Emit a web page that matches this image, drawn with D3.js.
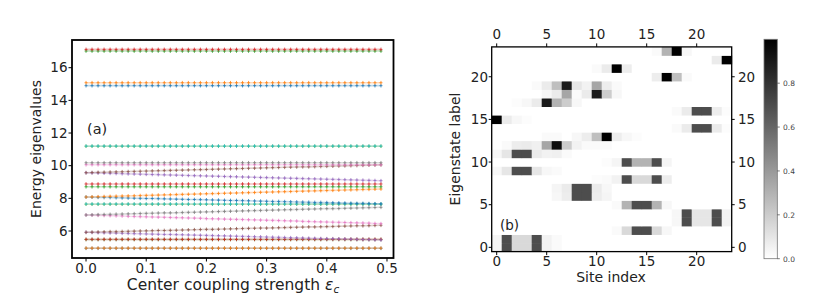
<!DOCTYPE html>
<html><head><meta charset="utf-8">
<script src="https://cdn.jsdelivr.net/npm/d3@7"></script>
<style>body{margin:0;background:#fff}svg{display:block}text{font-family:"DejaVu Sans",sans-serif}</style>
</head><body><svg id="c" width="830" height="305"></svg>
<script>
// ---------- Panel (a) data ----------
const eps = d3.range(50).map(i => +(i * 0.01).toFixed(2));
const xTicksA = [0.0, 0.1, 0.2, 0.3, 0.4, 0.5];
const yTicksA = [6, 8, 10, 12, 14, 16];
// constant eigenvalue levels (index -> value)
const constLevels = {0: 4.94, 1: 4.95, 2: 5.48, 3: 5.49, 8: 7.64, 9: 7.65, 12: 8.71, 13: 8.88,
  16: 10.06, 17: 10.18, 18: 11.19, 19: 11.20, 20: 14.90, 21: 15.08, 22: 17.02, 23: 17.12};
const e4 = [5.92,5.91,5.90,5.89,5.88,5.87,5.86,5.85,5.84,5.83,5.82,5.81,5.80,5.79,5.79,5.78,5.77,5.76,5.75,5.74,5.73,5.72,5.71,5.70,5.69,5.68,5.67,5.66,5.65,5.64,5.63,5.62,5.61,5.60,5.59,5.58,5.57,5.56,5.55,5.54,5.53,5.53,5.52,5.51,5.50,5.49,5.48,5.47,5.46,5.45];
const e5 = [5.92,5.93,5.94,5.95,5.96,5.96,5.97,5.98,5.99,6.00,6.01,6.02,6.03,6.03,6.04,6.05,6.06,6.07,6.08,6.09,6.10,6.10,6.11,6.12,6.13,6.14,6.15,6.16,6.17,6.18,6.18,6.19,6.20,6.21,6.22,6.23,6.24,6.25,6.25,6.26,6.27,6.28,6.29,6.30,6.31,6.32,6.32,6.33,6.34,6.35];
const e6 = [6.98,6.97,6.96,6.95,6.94,6.93,6.92,6.90,6.89,6.88,6.87,6.86,6.85,6.84,6.83,6.82,6.81,6.80,6.79,6.78,6.76,6.75,6.74,6.73,6.72,6.71,6.70,6.69,6.68,6.67,6.66,6.65,6.64,6.63,6.62,6.61,6.59,6.58,6.57,6.56,6.55,6.54,6.53,6.52,6.51,6.50,6.49,6.48,6.46,6.45];
const e7 = [6.98,6.99,7.00,7.01,7.02,7.03,7.04,7.05,7.06,7.07,7.08,7.09,7.10,7.11,7.11,7.12,7.13,7.14,7.15,7.16,7.17,7.18,7.19,7.20,7.21,7.22,7.23,7.24,7.25,7.26,7.27,7.28,7.29,7.30,7.31,7.32,7.33,7.34,7.35,7.36,7.37,7.37,7.38,7.39,7.40,7.41,7.42,7.43,7.44,7.45];
const e10 = [8.08,8.07,8.06,8.05,8.05,8.04,8.03,8.02,8.01,8.00,7.99,7.99,7.98,7.97,7.96,7.95,7.94,7.93,7.93,7.92,7.91,7.90,7.89,7.88,7.87,7.87,7.86,7.85,7.84,7.83,7.82,7.81,7.81,7.80,7.79,7.78,7.77,7.76,7.75,7.75,7.74,7.73,7.72,7.71,7.70,7.69,7.69,7.68,7.67,7.66];
const e11 = [8.08,8.09,8.10,8.11,8.12,8.13,8.14,8.15,8.16,8.17,8.18,8.19,8.20,8.21,8.22,8.23,8.24,8.25,8.26,8.27,8.28,8.29,8.30,8.31,8.32,8.33,8.34,8.35,8.36,8.37,8.38,8.39,8.40,8.41,8.42,8.43,8.44,8.45,8.46,8.47,8.48,8.49,8.50,8.51,8.52,8.53,8.54,8.55,8.56,8.57];
const e14 = [9.57,9.56,9.55,9.54,9.53,9.52,9.51,9.50,9.49,9.48,9.47,9.46,9.45,9.44,9.43,9.42,9.41,9.40,9.39,9.38,9.37,9.36,9.35,9.34,9.33,9.32,9.31,9.30,9.29,9.28,9.27,9.26,9.25,9.24,9.23,9.22,9.21,9.20,9.19,9.18,9.17,9.16,9.15,9.14,9.13,9.12,9.11,9.10,9.09,9.08];
const e15 = [9.57,9.58,9.59,9.60,9.61,9.62,9.63,9.64,9.65,9.66,9.67,9.68,9.69,9.70,9.71,9.72,9.73,9.74,9.75,9.76,9.77,9.78,9.79,9.80,9.81,9.82,9.83,9.84,9.85,9.86,9.87,9.88,9.89,9.90,9.91,9.92,9.93,9.93,9.94,9.95,9.96,9.97,9.98,9.99,10.00,10.01,10.02,10.03,10.04,10.05];
const varLevels = {4: e4, 5: e5, 6: e6, 7: e7, 10: e10, 11: e11, 14: e14, 15: e15};
const tab10 = ["#1f77b4","#ff7f0e","#2ca02c","#d62728","#9467bd","#8c564b","#e377c2","#7f7f7f","#bcbd22","#17becf"];

// ---------- Panel (b) data ----------
const sites = d3.range(24);
const states = d3.range(24);
const xTicksB = [0, 5, 10, 15, 20];
const yTicksB = [0, 5, 10, 15, 20];
const cbTicks = [0.0, 0.2, 0.4, 0.6, 0.8];
// sparse entries per eigenstate row: [site, weight]
const psi = [
  [[0,.04],[1,.7],[2,.15],[3,.15],[4,.7],[5,.05],[6,.02]],
  [[0,.04],[1,.7],[2,.15],[3,.15],[4,.7],[5,.05],[6,.02]],
  [[12,.02],[13,.15],[14,.7],[15,.7],[16,.15],[17,.03]],
  [[18,.03],[19,.7],[20,.1],[21,.1],[22,.7],[23,.05]],
  [[18,.03],[19,.7],[20,.1],[21,.1],[22,.7],[23,.05]],
  [[12,.02],[13,.3],[14,.7],[15,.7],[16,.3],[17,.03]],
  [[6,.03],[7,.07],[8,.7],[9,.7],[10,.07],[11,.04]],
  [[6,.04],[7,.08],[8,.7],[9,.7],[10,.08],[11,.03]],
  [[10,.01],[11,.02],[12,.05],[13,.7],[14,.15],[15,.15],[16,.7],[17,.07]],
  [[0,.03],[1,.1],[2,.7],[3,.7],[4,.1],[5,.03],[6,.02]],
  [[11,.01],[12,.04],[13,.7],[14,.3],[15,.3],[16,.7],[17,.04]],
  [[0,.03],[1,.1],[2,.7],[3,.7],[4,.08],[5,.05],[6,.06],[7,.02]],
  [[1,.02],[2,.07],[3,.08],[4,.06],[5,.35],[6,.95],[7,.2],[8,.05],[9,.02],[10,.02],[11,.02]],
  [[5,.02],[6,.02],[8,.03],[9,.07],[10,.25],[11,1.0],[12,.07],[13,.03],[14,.01]],
  [[18,.02],[19,.08],[20,.7],[21,.7],[22,.08],[23,.01]],
  [[0,1.0],[1,.08],[2,.03],[3,.01]],
  [[18,.02],[19,.08],[20,.7],[21,.7],[22,.07],[23,.01]],
  [[2,.01],[3,.03],[4,.08],[5,.9],[6,.3],[7,.2],[8,.03]],
  [[5,.03],[6,.08],[7,.35],[8,.02],[9,.08],[10,.9],[11,.2],[12,.03]],
  [[4,.02],[5,.08],[6,.25],[7,.9],[8,.1],[9,.05],[10,.35],[11,.07],[12,.02]],
  [[16,.07],[17,1.0],[18,.25],[19,.02]],
  [[10,.02],[11,.08],[12,1.0],[13,.07]],
  [[22,.08],[23,1.0]],
  [[16,.02],[17,.3],[18,1.0],[19,.03]]
];

// ---------- Drawing ----------
const svg = d3.select("#c");

// Panel (a)
const A = {l: 72, r: 393.5, t: 40, b: 258};
const xA = d3.scaleLinear().domain([-0.0233, 0.5108]).range([A.l, A.r]);
const yA = d3.scaleLinear().domain([4.347, 17.696]).range([A.b, A.t]);
const gA = svg.append("g");
const series = d3.range(24).map(k => ({k, vals: varLevels[k] ? varLevels[k] : eps.map(() => constLevels[k])}));
const line = d3.line().x((d, i) => xA(eps[i])).y(d => yA(d));
series.forEach(s => {
  const c = tab10[s.k % 10];
  gA.append("path").attr("d", line(s.vals)).attr("fill", "none").attr("stroke", c)
    .attr("stroke-width", 1.6).attr("stroke-opacity", 0.3);
  const m = gA.append("g");
  s.vals.forEach((v, i) => {
    const x = xA(eps[i]), y = yA(v);
    m.append("path").attr("d", `M${x-1.5},${y}H${x+1.5}M${x},${y-1.8}V${y+1.8}`)
      .attr("stroke", c).attr("stroke-width", 1).attr("stroke-opacity", 0.8);
  });
});
gA.append("rect").attr("x", A.l).attr("y", A.t).attr("width", A.r - A.l).attr("height", A.b - A.t)
  .attr("fill", "none").attr("stroke", "#000").attr("stroke-width", 1.8);
xTicksA.forEach(t => {
  gA.append("line").attr("x1", xA(t)).attr("x2", xA(t)).attr("y1", A.b).attr("y2", A.b + 3.5).attr("stroke", "#000");
  gA.append("text").attr("x", xA(t)).attr("y", 273).attr("text-anchor", "middle").attr("font-size", 13.5)
    .attr("fill", "#222").text(t.toFixed(1));
});
yTicksA.forEach(t => {
  gA.append("line").attr("x1", A.l - 3.5).attr("x2", A.l).attr("y1", yA(t)).attr("y2", yA(t)).attr("stroke", "#000");
  gA.append("text").attr("x", 67.5).attr("y", yA(t) + 4.8).attr("text-anchor", "end").attr("font-size", 13.5)
    .attr("fill", "#222").text(t);
});
gA.append("text").attr("transform", "translate(41,149) rotate(-90)").attr("text-anchor", "middle")
  .attr("font-size", 14).attr("fill", "#222").text("Energy eigenvalues");
const xl = gA.append("text").attr("x", 233).attr("y", 290).attr("text-anchor", "middle").attr("font-size", 15.5).attr("fill", "#222");
xl.append("tspan").text("Center coupling strength ");
xl.append("tspan").attr("font-style", "italic").text("ε");
xl.append("tspan").attr("font-size", 10.5).attr("font-style", "italic").attr("dy", 3).text("c");
gA.append("text").attr("x", 87).attr("y", 134).attr("font-size", 14.5).attr("fill", "#222").text("(a)");

// Panel (b)
const B = {l: 491.7, r: 731.7, t: 46.9, b: 251.6};
const xB = d3.scaleBand().domain(sites).range([B.l, B.r]);
const yB = d3.scaleBand().domain(states).range([B.b, B.t]);
const color = d3.scaleLinear().domain([0, 1]).range(["#ffffff", "#000000"]);
const gB = svg.append("g");
const cells = [];
states.forEach(r => {
  const row = new Array(24).fill(0);
  psi[r].forEach(([c, v]) => row[c] = v);
  sites.forEach(c => cells.push({r, c, v: row[c]}));
});
gB.selectAll("rect.cell").data(cells).join("rect").attr("class", "cell")
  .attr("x", d => xB(d.c)).attr("y", d => yB(d.r))
  .attr("width", xB.bandwidth() + 0.4).attr("height", yB.bandwidth() + 0.4)
  .attr("fill", d => color(d.v));
gB.append("rect").attr("x", B.l).attr("y", B.t).attr("width", B.r - B.l).attr("height", B.b - B.t)
  .attr("fill", "none").attr("stroke", "#000").attr("stroke-width", 1.3);
const cx = c => xB(c) + xB.bandwidth() / 2, cy = r => yB(r) + yB.bandwidth() / 2;
xTicksB.forEach(t => {
  gB.append("line").attr("x1", cx(t)).attr("x2", cx(t)).attr("y1", B.b).attr("y2", B.b + 3.5).attr("stroke", "#000");
  gB.append("line").attr("x1", cx(t)).attr("x2", cx(t)).attr("y1", B.t - 3.5).attr("y2", B.t).attr("stroke", "#000");
  gB.append("text").attr("x", cx(t)).attr("y", 266).attr("text-anchor", "middle").attr("font-size", 13.5).attr("fill", "#222").text(t);
  gB.append("text").attr("x", cx(t)).attr("y", 39).attr("text-anchor", "middle").attr("font-size", 13.5).attr("fill", "#222").text(t);
});
yTicksB.forEach(t => {
  gB.append("line").attr("x1", B.l - 3).attr("x2", B.l).attr("y1", cy(t)).attr("y2", cy(t)).attr("stroke", "#000");
  gB.append("line").attr("x1", B.r).attr("x2", B.r + 3).attr("y1", cy(t)).attr("y2", cy(t)).attr("stroke", "#000");
  gB.append("text").attr("x", 488).attr("y", cy(t) + 4.8).attr("text-anchor", "end").attr("font-size", 13.5).attr("fill", "#222").text(t);
  gB.append("text").attr("x", 738).attr("y", cy(t) + 4.8).attr("text-anchor", "start").attr("font-size", 13.5).attr("fill", "#222").text(t);
});
gB.append("text").attr("x", 611).attr("y", 281.5).attr("text-anchor", "middle").attr("font-size", 14).attr("fill", "#222").text("Site index");
gB.append("text").attr("transform", "translate(460,149) rotate(-90)").attr("text-anchor", "middle")
  .attr("font-size", 14).attr("fill", "#222").text("Eigenstate label");
gB.append("text").attr("x", 500).attr("y", 230).attr("font-size", 13.5).attr("fill", "#222").text("(b)");

// Colorbar
const C = {l: 764, r: 777.3, t: 39.3, b: 258.7};
const defs = svg.append("defs");
const grad = defs.append("linearGradient").attr("id", "cbg").attr("x1", 0).attr("y1", 1).attr("x2", 0).attr("y2", 0);
grad.append("stop").attr("offset", 0).attr("stop-color", color(0));
grad.append("stop").attr("offset", 1).attr("stop-color", color(1));
const yC = d3.scaleLinear().domain([0, 1]).range([C.b, C.t]);
svg.append("rect").attr("x", C.l).attr("y", C.t).attr("width", C.r - C.l).attr("height", C.b - C.t)
  .attr("fill", "url(#cbg)").attr("stroke", "#777").attr("stroke-width", 0.8);
cbTicks.forEach(t => {
  svg.append("line").attr("x1", C.r).attr("x2", C.r + 2.5).attr("y1", yC(t)).attr("y2", yC(t)).attr("stroke", "#444").attr("stroke-width", 0.7);
  svg.append("text").attr("x", 783).attr("y", yC(t) + 2.8).attr("font-size", 7.5).attr("fill", "#444").text(t.toFixed(1));
});
</script></body></html>
